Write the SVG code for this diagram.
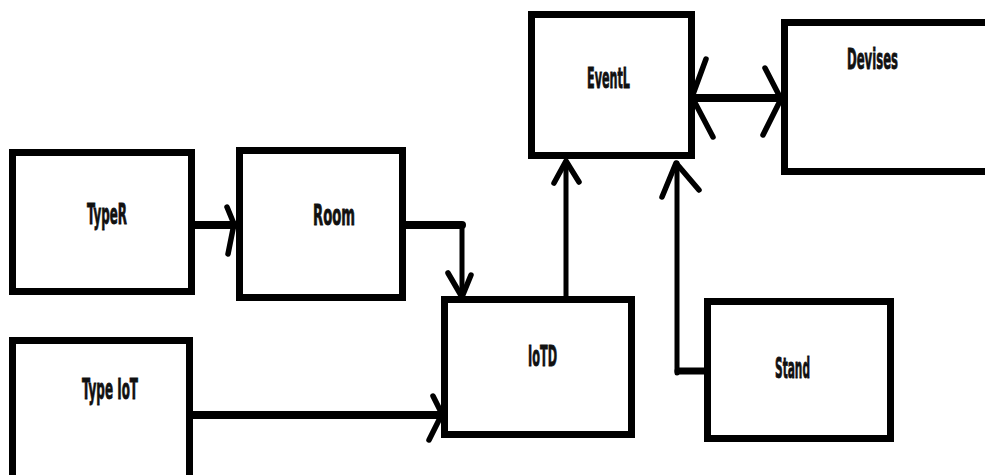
<svg xmlns="http://www.w3.org/2000/svg" width="985" height="475" viewBox="0 0 985 475">
  <style>
    .box { fill: #fff; stroke: #000; stroke-width: 7; }
    .lbl { font-family: "Liberation Sans Narrow", "DejaVu Sans Condensed", "Liberation Sans", sans-serif; font-weight: bold; font-size: 29px; fill: #111; stroke: #111; stroke-width: 0.8; }
    .h { fill: none; stroke: #000; stroke-width: 8; stroke-linecap: round; }
    .v { fill: none; stroke: #000; stroke-width: 5; stroke-linecap: round; }
    .head { fill: none; stroke: #000; stroke-width: 5.5; stroke-linecap: round; stroke-linejoin: round; }
  </style>
  <rect width="985" height="475" fill="#fff"/>

  <!-- connectors -->
  <g id="connectors">
    <!-- TypeR -> Room -->
    <path class="h" d="M191 225 H234"/>
    <path class="head" d="M227 207 L234 224 L228 254"/>
    <!-- Type IoT -> IoTD -->
    <path class="h" d="M193 415 H440"/>
    <path class="head" d="M433 396 L442 414 L429 440"/>
    <!-- Room -> IoTD -->
    <path class="h" d="M406 225 H462"/>
    <path class="v" d="M462 225 V296"/>
    <path class="head" d="M448 273 L462 297 L471 275"/>
    <!-- IoTD -> EventL -->
    <path class="v" d="M566 298 V162"/>
    <path class="head" d="M554 183 L566 161 L579 182"/>
    <!-- Stand -> EventL -->
    <path class="h" d="M704 371 H678" style="stroke-width:7"/>
    <path class="v" d="M677 373 V163"/>
    <path class="head" d="M662 197 L676 163 L699 190"/>
    <!-- EventL <-> Devises -->
    <path class="h" d="M694 98 H780"/>
    <path class="head" d="M706 59 L692 97 L713 137"/>
    <path class="head" d="M765 68 L781 99 L763 135"/>
  </g>

  <g id="typer">
    <rect class="box" x="12.5" y="152.5" width="179" height="139"/>
    <text class="lbl" x="87" y="224" textLength="40" lengthAdjust="spacingAndGlyphs">TypeR</text>
  </g>
  <g id="room">
    <rect class="box" x="239.5" y="150.5" width="163" height="147"/>
    <text class="lbl" x="313" y="225" textLength="42" lengthAdjust="spacingAndGlyphs">Room</text>
  </g>
  <g id="typeiot">
    <rect class="box" x="12.5" y="340.5" width="177" height="200"/>
    <text class="lbl" x="82" y="399" textLength="56" lengthAdjust="spacingAndGlyphs">Type IoT</text>
  </g>
  <g id="iotd">
    <rect class="box" x="444.5" y="299.5" width="187" height="135"/>
    <text class="lbl" x="528" y="366" textLength="29" lengthAdjust="spacingAndGlyphs">IoTD</text>
  </g>
  <g id="stand">
    <rect class="box" x="707.5" y="301.5" width="183" height="137"/>
    <text class="lbl" x="775" y="378" textLength="35" lengthAdjust="spacingAndGlyphs">Stand</text>
  </g>
  <g id="eventl">
    <rect class="box" x="531.5" y="14.5" width="160" height="141"/>
    <text class="lbl" x="587" y="88" textLength="43" lengthAdjust="spacingAndGlyphs">EventL</text>
  </g>
  <g id="devises">
    <rect class="box" x="784.5" y="22.5" width="250" height="149"/>
    <text class="lbl" x="847" y="69" textLength="51" lengthAdjust="spacingAndGlyphs">Devises</text>
  </g>
</svg>
